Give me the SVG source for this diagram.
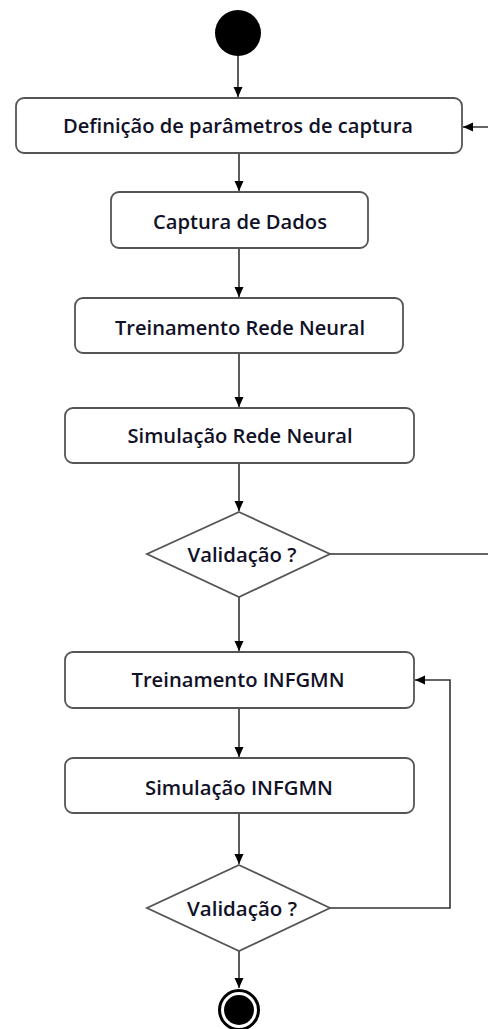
<svg xmlns="http://www.w3.org/2000/svg" width="488" height="1029" viewBox="0 0 488 1029">
<style>
.box{fill:#fff;stroke:#555;stroke-width:1.8}
.dia{fill:#fff;stroke:#555;stroke-width:1.8}
.lbl{font-family:"Open Sans","Liberation Sans",sans-serif;font-weight:600;font-size:20px;fill:#111128;text-anchor:middle}
.con{fill:none;stroke:#333;stroke-width:1.6}
</style>
<defs>
<marker id="ah" markerUnits="userSpaceOnUse" markerWidth="12" markerHeight="12" refX="10" refY="5" orient="auto">
<path d="M0,0.5 L10,5 L0,9.5 Z" fill="#000"/>
</marker>
</defs>
<rect width="488" height="1029" fill="#fff"/>
<g id="connectors">
<line class="con" x1="238" y1="56" x2="238" y2="97" marker-end="url(#ah)"/>
<line class="con" x1="239" y1="153" x2="239" y2="191" marker-end="url(#ah)"/>
<line class="con" x1="239" y1="248" x2="239" y2="297" marker-end="url(#ah)"/>
<line class="con" x1="239" y1="353" x2="239" y2="407" marker-end="url(#ah)"/>
<line class="con" x1="239" y1="463" x2="239" y2="511" marker-end="url(#ah)"/>
<line class="con" x1="239" y1="597" x2="239" y2="651" marker-end="url(#ah)"/>
<line class="con" x1="239" y1="708" x2="239" y2="757" marker-end="url(#ah)"/>
<line class="con" x1="239" y1="813" x2="239" y2="864" marker-end="url(#ah)"/>
<line class="con" x1="239" y1="951" x2="239" y2="988" marker-end="url(#ah)"/>
<path class="con" d="M330,554 H490 V127 H463" marker-end="url(#ah)"/>
<path class="con" d="M330,908 H450 V680 H415" marker-end="url(#ah)"/>
</g>
<g id="start"><circle cx="238" cy="33" r="23" fill="#000"/></g>
<g id="n1"><rect class="box" x="16" y="98" width="446" height="55" rx="8"/><text class="lbl" x="238" y="133" textLength="350" lengthAdjust="spacingAndGlyphs">Definição de parâmetros de captura</text></g>
<g id="n2"><rect class="box" x="111" y="192" width="257" height="56" rx="8"/><text class="lbl" x="240" y="229" textLength="174" lengthAdjust="spacingAndGlyphs">Captura de Dados</text></g>
<g id="n3"><rect class="box" x="75" y="298" width="328" height="55" rx="8"/><text class="lbl" x="240" y="335" textLength="250" lengthAdjust="spacingAndGlyphs">Treinamento Rede Neural</text></g>
<g id="n4"><rect class="box" x="65" y="408" width="349" height="55" rx="8"/><text class="lbl" x="240" y="443" textLength="225" lengthAdjust="spacingAndGlyphs">Simulação Rede Neural</text></g>
<g id="d1"><polygon class="dia" points="239,512 330,554 239,597 147,554"/><text class="lbl" x="242" y="562" textLength="109" lengthAdjust="spacingAndGlyphs">Validação ?</text></g>
<g id="n5"><rect class="box" x="65" y="652" width="349" height="56" rx="8"/><text class="lbl" x="238" y="687" textLength="213" lengthAdjust="spacingAndGlyphs">Treinamento INFGMN</text></g>
<g id="n6"><rect class="box" x="65" y="758" width="349" height="55" rx="8"/><text class="lbl" x="239" y="795" textLength="188" lengthAdjust="spacingAndGlyphs">Simulação INFGMN</text></g>
<g id="d2"><polygon class="dia" points="239,865 330,908 239,951 147,908"/><text class="lbl" x="242" y="916" textLength="110" lengthAdjust="spacingAndGlyphs">Validação ?</text></g>
<g id="end"><circle cx="239" cy="1010" r="19.5" fill="#fff" stroke="#000" stroke-width="3"/><circle cx="239" cy="1010" r="15" fill="#000"/></g>
</svg>
